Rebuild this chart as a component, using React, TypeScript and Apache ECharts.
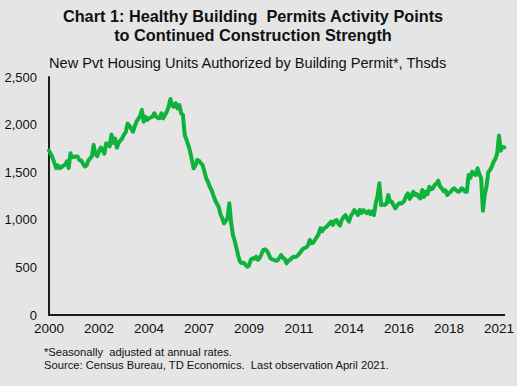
import React, { useEffect, useRef } from 'react';
import * as echarts from 'echarts';

// New private housing units authorized by building permit, SAAR, thousands (monthly)
const permits2000to2004 = [
  1727, 1692, 1651, 1597, 1543, 1572, 1542, 1552, 1570, 1577, 1614, 1543,
  1699, 1656, 1659, 1666, 1665, 1626, 1623, 1592, 1559, 1571, 1622, 1645,
  1665, 1787, 1691, 1669, 1716, 1758, 1738, 1695, 1803, 1799, 1771, 1896,
  1808, 1854, 1757, 1808, 1836, 1854, 1897, 1920, 2010, 1990, 1960, 1925,
  1980, 2031, 2060, 2090, 2153, 2031, 2083, 2048, 2066, 2075, 2083, 2119,
];
const permits2005to2009 = [
  2083, 2070, 2066, 2119, 2066, 2100, 2136, 2188, 2269, 2200, 2188, 2224,
  2171, 2206, 2119, 2101, 1891, 1840, 1786, 1720, 1630, 1541, 1570, 1628,
  1620, 1595, 1576, 1510, 1436, 1400, 1350, 1313, 1260, 1208, 1170, 1138,
  1060, 1016, 963, 990, 1016, 1173, 970, 840, 780, 700, 620, 560,
  545, 550, 530, 507, 520, 580, 596, 590, 612, 580, 600, 640,
];
const permits2010to2014 = [
  683, 690, 676, 640, 596, 585, 578, 570, 575, 600, 630, 600,
  590, 543, 570, 580, 600, 612, 610, 620, 640, 665, 690, 700,
  710, 730, 788, 753, 760, 790, 820, 850, 911, 880, 911, 920,
  940, 960, 980, 945, 990, 998, 960, 940, 1000, 1030, 1050, 1010,
  980, 1040, 1068, 1103, 1080, 1050, 1103, 1070, 1103, 1085, 1070, 1090,
];
const permits2015to2019 = [
  1060, 1090, 1050, 1173, 1250, 1383, 1155, 1160, 1155, 1170, 1260, 1190,
  1190, 1150, 1120, 1150, 1173, 1170, 1180, 1200, 1250, 1278, 1220, 1250,
  1295, 1260, 1270, 1240, 1225, 1313, 1240, 1295, 1270, 1348, 1320, 1330,
  1366, 1380, 1411, 1350, 1331, 1300, 1310, 1260, 1280, 1295, 1320, 1331,
  1310, 1295, 1300, 1331, 1320, 1295, 1295, 1470, 1440, 1505, 1480, 1470,
];
const permits2020to2021 = [
  1541, 1480, 1436, 1096, 1260, 1348, 1500, 1523, 1560, 1610, 1640, 1698,
  1886, 1726, 1766, 1760,
];

const permits = [
  ...permits2000to2004,
  ...permits2005to2009,
  ...permits2010to2014,
  ...permits2015to2019,
  ...permits2020to2021,
];

const startYear = 2000;
const months = permits.map((_, i) => {
  const y = startYear + Math.floor(i / 12);
  const m = (i % 12) + 1;
  return `${y}-${m < 10 ? '0' + m : m}`;
});

const yTicks = [0, 500, 1000, 1500, 2000, 2500];

const FONT = '"Liberation Sans", Arial, sans-serif';

export default function App() {
  const ref = useRef<HTMLDivElement>(null);

  useEffect(() => {
    if (!ref.current) return;
    const chart = echarts.init(ref.current, undefined, { renderer: 'svg' });
    chart.setOption({
      animation: false,
      backgroundColor: '#e5e5e5',
      textStyle: { fontFamily: FONT },
      grid: { left: 49, right: 11, top: 77, bottom: 71, containLabel: false },
      xAxis: {
        type: 'category',
        data: months,
        boundaryGap: false,
        axisLine: { show: true, lineStyle: { color: '#1e1e12', width: 2 } },
        axisTick: { show: false },
        axisLabel: {
          interval: 27,
          formatter: (v: string) => v.slice(0, 4),
          color: '#111',
          fontSize: 13.5,
          fontFamily: FONT,
          margin: 6,
        },
        splitLine: { show: false },
      },
      yAxis: {
        type: 'value',
        min: yTicks[0],
        max: yTicks[yTicks.length - 1],
        interval: 500,
        axisLine: { show: true, lineStyle: { color: '#1e1e12', width: 2 } },
        axisTick: { show: false },
        axisLabel: {
          formatter: (v: number) => v.toLocaleString('en-US'),
          color: '#111',
          fontSize: 13,
          fontFamily: FONT,
          margin: 12,
        },
        splitLine: { show: false },
      },
      series: [
        {
          type: 'line',
          data: permits,
          showSymbol: false,
          symbol: 'none',
          lineStyle: { color: '#0fb33c', width: 4, join: 'round', cap: 'round' },
        },
      ],
      graphic: [
        {
          type: 'text',
          x: 253,
          y: 16,
          style: {
            text: 'Chart 1: Healthy Building  Permits Activity Points',
            fill: '#111',
            font: `bold 16.3px ${FONT}`,
            textAlign: 'center',
            textVerticalAlign: 'middle',
            align: 'center',
            verticalAlign: 'middle',
          },
        },
        {
          type: 'text',
          x: 253,
          y: 35,
          style: {
            text: 'to Continued Construction Strength',
            fill: '#111',
            font: `bold 16.3px ${FONT}`,
            textAlign: 'center',
            textVerticalAlign: 'middle',
            align: 'center',
            verticalAlign: 'middle',
          },
        },
        {
          type: 'text',
          x: 49,
          y: 63,
          style: {
            text: 'New Pvt Housing Units Authorized by Building Permit*, Thsds',
            fill: '#111',
            font: `14.6px ${FONT}`,
            textAlign: 'left',
            textVerticalAlign: 'middle',
            align: 'left',
            verticalAlign: 'middle',
          },
        },
        {
          type: 'text',
          x: 44,
          y: 352,
          style: {
            text: '*Seasonally  adjusted at annual rates.',
            fill: '#111',
            font: `11.2px ${FONT}`,
            textAlign: 'left',
            textVerticalAlign: 'middle',
            align: 'left',
            verticalAlign: 'middle',
          },
        },
        {
          type: 'text',
          x: 44,
          y: 365,
          style: {
            text: 'Source: Census Bureau, TD Economics.  Last observation April 2021.',
            fill: '#111',
            font: `11.2px ${FONT}`,
            textAlign: 'left',
            textVerticalAlign: 'middle',
            align: 'left',
            verticalAlign: 'middle',
          },
        },
      ],
    });
    return () => chart.dispose();
  }, []);

  return (
    <div
      ref={ref}
      style={{ position: 'absolute', left: 0, top: 0, width: 517, height: 386 }}
    />
  );
}
